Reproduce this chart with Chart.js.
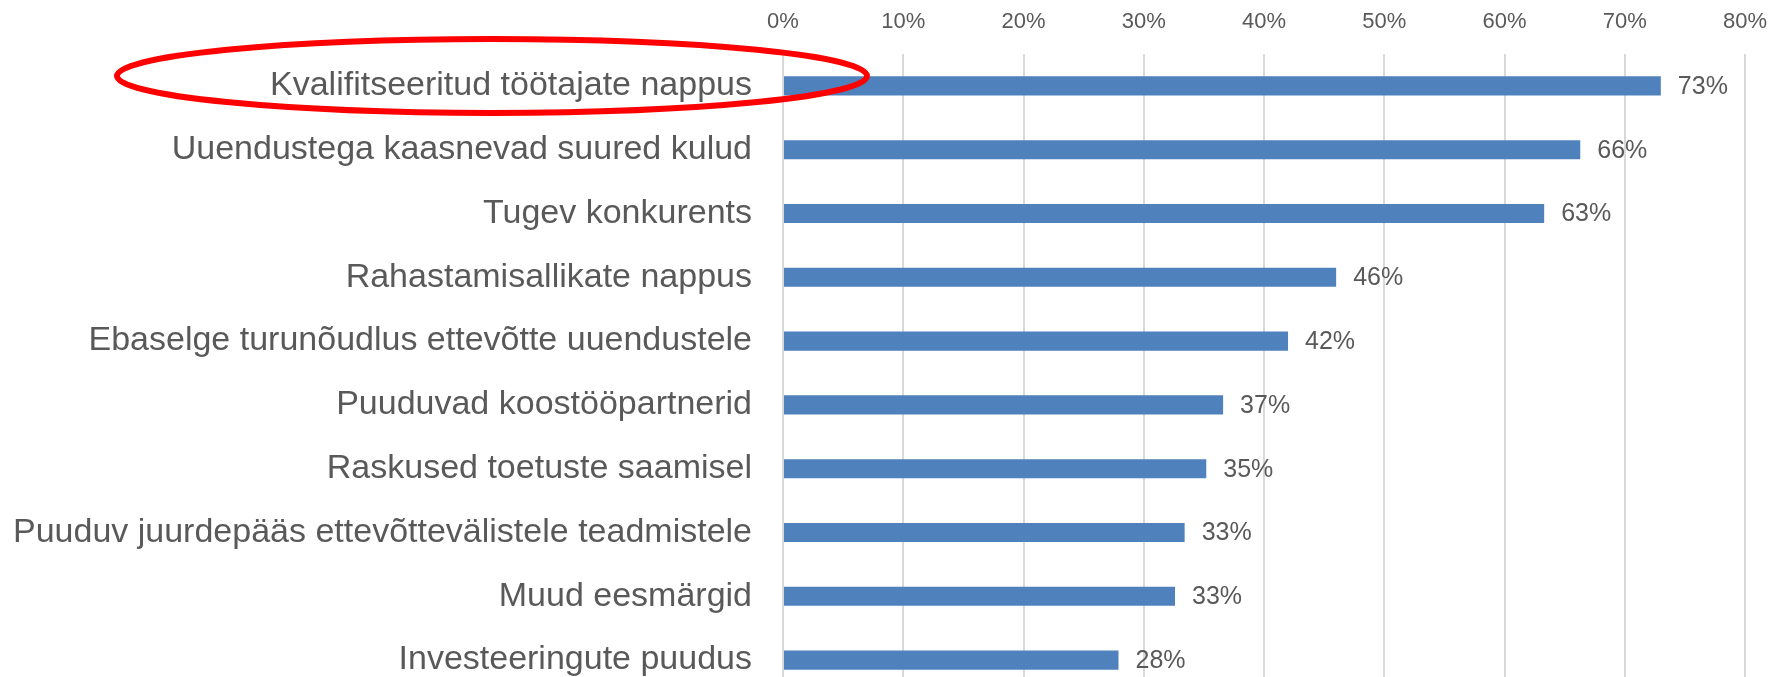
<!DOCTYPE html>
<html>
<head>
<meta charset="utf-8">
<script src="https://cdn.jsdelivr.net/npm/chart.js@4"></script>
<style>
    html, body { margin: 0; padding: 0; background: #fff; overflow: hidden; }
</style>
</head>
<body>
<canvas id="barChart" width="1773" height="700"></canvas>
<script>
const labels = [
    'Kvalifitseeritud töötajate nappus',
    'Uuendustega kaasnevad suured kulud',
    'Tugev konkurents',
    'Rahastamisallikate nappus',
    'Ebaselge turunõudlus ettevõtte uuendustele',
    'Puuduvad koostööpartnerid',
    'Raskused toetuste saamisel',
    'Puuduv juurdepääs ettevõttevälistele teadmistele',
    'Muud eesmärgid',
    'Investeeringute puudus'
];
const values = [73.0, 66.3, 63.3, 46.0, 42.0, 36.6, 35.2, 33.4, 32.6, 27.9];
const tickValues = [0, 10, 20, 30, 40, 50, 60, 70, 80];

const textColor = '#595959';

// value labels to the right of each bar
const valueLabels = {
    id: 'valueLabels',
    afterDatasetsDraw(chart) {
        const ctx = chart.ctx;
        const meta = chart.getDatasetMeta(0);
        ctx.save();
        ctx.font = '25px "Liberation Sans", Arial, sans-serif';
        ctx.fillStyle = textColor;
        ctx.textAlign = 'left';
        ctx.textBaseline = 'middle';
        meta.data.forEach((bar, i) => {
            ctx.fillText(Math.round(values[i]) + '%', bar.x + 17, bar.y + 1);
        });
        ctx.restore();
    }
};

// red ellipse around the first category label
const highlight = {
    id: 'highlight',
    afterDraw(chart) {
        const ctx = chart.ctx;
        const y = chart.scales.y.getPixelForValue(0);
        const cx = chart.chartArea.left - 291;
        ctx.save();
        ctx.strokeStyle = '#ff0000';
        ctx.lineWidth = 6;
        ctx.beginPath();
        ctx.ellipse(cx, y - 10, 375, 37, 0, 0, Math.PI * 2);
        ctx.stroke();
        ctx.restore();
    }
};

new Chart(document.getElementById('barChart'), {
    type: 'bar',
    data: {
        labels,
        datasets: [{
            data: values,
            backgroundColor: '#4f81bd',
            barPercentage: 0.3,
            categoryPercentage: 1
        }]
    },
    options: {
        indexAxis: 'y',
        responsive: false,
        animation: false,
        layout: { padding: { left: 0, right: 28, top: 0, bottom: 8 } },
        scales: {
            x: {
                position: 'top',
                min: 0,
                max: 80,
                afterBuildTicks: s => { s.ticks = tickValues.map(v => ({ value: v })); },
                afterFit: s => {
                    s.height = 54;
                    s.paddingLeft = 0;
                    s.paddingRight = 0;
                },
                grid: { color: '#d9d9d9', lineWidth: 2, drawTicks: false },
                border: { display: false },
                ticks: {
                    padding: 19,
                    color: textColor,
                    font: { family: '"Liberation Sans", Arial, sans-serif', size: 22 },
                    callback: v => v + '%'
                }
            },
            y: {
                afterFit: s => {
                    s.width = 783;
                    s.paddingTop = 0;
                    s.paddingBottom = 0;
                },
                grid: { display: false, drawTicks: false },
                border: { display: false },
                ticks: {
                    padding: 31,
                    color: textColor,
                    font: { family: '"Liberation Sans", Arial, sans-serif', size: 34 }
                }
            }
        },
        plugins: {
            legend: { display: false },
            tooltip: { enabled: false }
        }
    },
    plugins: [valueLabels, highlight]
});
</script>
</body>
</html>
